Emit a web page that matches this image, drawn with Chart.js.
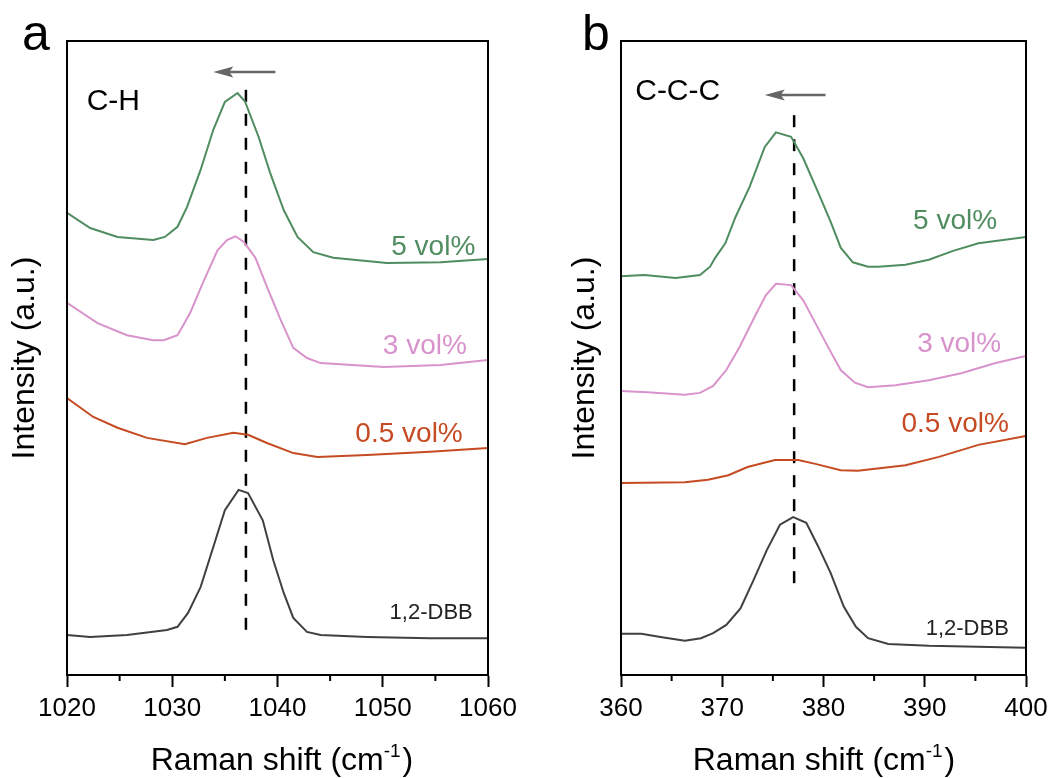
<!DOCTYPE html>
<html><head><meta charset="utf-8">
<script src="https://cdn.jsdelivr.net/npm/chart.js@4.4.0/dist/chart.umd.min.js"></script>
<style>
html,body{margin:0;padding:0;background:#fff;}
#wrap{position:relative;width:1056px;height:778px;overflow:hidden;}
canvas{position:absolute;top:0;}
</style></head><body>
<div id="wrap">
<canvas id="ca" width="528" height="778" style="left:0;width:528px;height:778px"></canvas>
<canvas id="cb" width="528" height="778" style="left:528px;width:528px;height:778px"></canvas>
</div>
<script>
// ---------- data ----------
// Panel a: C-H band
const aTicks = [1020, 1030, 1040, 1050, 1060];
const aMinor = [1025, 1035, 1045, 1055];
const aX_5  = [1020.0,1022.2,1024.8,1028.2,1029.3,1030.5,1031.4,1032.7,1033.9,1035.0,1036.2,1036.9,1038.2,1039.3,1040.6,1041.9,1043.4,1045.3,1050.4,1055.5,1060.0];
const aY_5  = [72.9,70.5,69.1,68.6,69.1,70.7,73.8,79.7,86.0,90.4,91.8,90.5,84.9,79.2,73.3,69.1,66.7,65.8,65.0,65.1,65.6];
const aX_3  = [1020.0,1022.9,1025.7,1028.2,1029.2,1030.5,1031.7,1032.9,1034.3,1035.2,1036.0,1036.8,1037.9,1039.0,1040.3,1041.5,1042.8,1044.1,1050.1,1055.5,1060.0];
const aY_3  = [58.7,55.5,53.6,52.8,52.8,53.6,57.1,61.8,67.0,68.6,69.2,68.3,65.8,61.2,56.0,51.6,50.0,49.2,48.6,48.9,49.7];
const aX_05 = [1020.0,1022.5,1024.8,1027.6,1031.2,1033.3,1035.8,1037.2,1039.0,1041.5,1043.8,1048.5,1054.5,1060.0];
const aY_05 = [43.7,40.7,39.0,37.4,36.4,37.4,38.2,37.9,36.6,35.0,34.4,34.7,35.2,35.8];
const aX_0  = [1020.0,1022.2,1025.7,1029.5,1030.5,1031.5,1032.7,1033.9,1035.0,1036.3,1037.2,1038.6,1039.6,1040.6,1041.5,1042.8,1044.1,1048.5,1054.5,1060.0];
const aY_0  = [6.3,6.0,6.3,7.1,7.6,9.8,13.9,20.2,26.0,29.2,28.7,24.4,18.1,12.9,9.0,6.8,6.3,6.0,5.8,5.8];
const aDashX = [1037.0, 1037.0];
const aDashY = [92.3, 5.5];
const aArrowX = [1039.8, 1033.9];   // tail, tip
const aArrowY = 95.1;

// Panel b: C-C-C band
const bTicks = [360, 370, 380, 390, 400];
const bMinor = [365, 375, 385, 395];
const bX_5  = [360.0,362.3,365.4,367.8,368.8,369.3,370.3,371.3,372.7,374.2,375.3,376.8,378.0,379.5,380.7,381.7,382.9,384.4,385.4,388.1,390.4,392.8,395.3,400.0];
const bY_5  = [62.9,63.1,62.6,63.1,64.4,65.8,68.1,72.2,77.0,83.3,85.6,84.9,81.5,76.0,71.5,67.4,65.1,64.4,64.4,64.7,65.5,66.9,68.1,69.1];
const bX_3  = [360.0,362.6,366.3,367.8,369.1,370.4,371.7,373.2,374.3,375.3,376.8,378.0,379.2,380.5,381.7,383.1,384.4,387.1,390.4,393.6,397.0,400.0];
const bY_3  = [44.8,44.6,44.2,44.5,45.6,48.1,51.7,56.5,59.9,61.7,61.5,59.1,55.5,51.6,48.1,46.1,45.4,45.7,46.5,47.6,49.2,50.3];
const bX_05 = [360.0,366.3,368.6,370.6,372.5,375.2,377.5,379.2,381.7,383.4,388.1,391.4,395.3,400.0];
const bY_05 = [30.3,30.4,30.8,31.5,32.8,33.9,33.9,33.3,32.3,32.2,33.1,34.4,36.3,37.7];
const bX_0  = [360.0,362.0,363.9,366.3,367.9,369.1,370.4,371.8,373.1,374.4,375.7,377.0,378.3,379.5,380.7,382.0,383.2,384.4,386.4,390.4,400.0];
const bY_0  = [6.5,6.5,6.0,5.4,5.8,6.6,7.9,10.5,15.0,19.7,23.7,24.9,24.0,20.2,16.1,10.8,7.6,5.8,4.9,4.6,4.3];
const bDashX = [377.1, 377.1];
const bDashY = [88.3, 13.1];
const bArrowX = [380.2, 374.2];
const bArrowY = 91.5;

// ---------- styles ----------
const FONT = "'Liberation Sans', Arial, Helvetica, sans-serif";
const C_GREEN = '#4f8c60';
const C_PINK  = '#d993cc';
const C_RED   = '#c64a22';
const C_DARK  = '#404040';

Chart.defaults.font.family = FONT;

function pts(xs, ys) { return xs.map((v, i) => ({ x: v, y: ys[i] })); }
function line(xs, ys, color) {
  return { data: pts(xs, ys), borderColor: color, borderWidth: 2, showLine: true,
           pointRadius: 0, tension: 0, fill: false };
}
function dash(xs, ys) {
  return { data: pts(xs, ys), borderColor: '#000', borderWidth: 2.5, showLine: true,
           pointRadius: 0, borderDash: [12, 12], fill: false };
}

function decoPlugin(cfg) {
  return {
    id: 'deco' + cfg.letter,
    afterDraw(chart) {
      const { ctx, chartArea: ca, scales: { x, y } } = chart;
      ctx.save();
      // minor ticks
      ctx.strokeStyle = '#000'; ctx.lineWidth = 2;
      cfg.minor.forEach(v => {
        const px = x.getPixelForValue(v);
        ctx.beginPath(); ctx.moveTo(px, ca.bottom); ctx.lineTo(px, ca.bottom + 6); ctx.stroke();
      });
      // frame
      ctx.strokeRect(ca.left, ca.top, ca.right - ca.left, ca.bottom - ca.top);
      // arrow
      const tx = x.getPixelForValue(cfg.arrowX[0]), hx = x.getPixelForValue(cfg.arrowX[1]);
      const ay = y.getPixelForValue(cfg.arrowY);
      ctx.strokeStyle = '#666'; ctx.fillStyle = '#666'; ctx.lineWidth = 2.5;
      ctx.beginPath(); ctx.moveTo(tx, ay); ctx.lineTo(hx + 14, ay); ctx.stroke();
      ctx.beginPath(); ctx.moveTo(hx, ay); ctx.lineTo(hx + 20, ay - 5.5); ctx.lineTo(hx + 16, ay);
      ctx.lineTo(hx + 20, ay + 5.5); ctx.closePath(); ctx.fill();
      // labels
      ctx.textAlign = 'center'; ctx.textBaseline = 'alphabetic';
      cfg.labels.forEach(l => {
        ctx.font = l.size + 'px ' + FONT; ctx.fillStyle = l.color;
        ctx.fillText(l.text, x.getPixelForValue(l.x), y.getPixelForValue(l.y));
      });
      // x title with superscript
      ctx.fillStyle = '#000'; ctx.textAlign = 'left';
      const main = 'Raman shift (cm', sup = '-1', end = ')';
      ctx.font = '32px ' + FONT; const w1 = ctx.measureText(main).width, w3 = ctx.measureText(end).width;
      ctx.font = '19px ' + FONT; const w2 = ctx.measureText(sup).width;
      let sx = cfg.titleCx - (w1 + w2 + w3 + 2) / 2;
      const by = cfg.titleBase;
      ctx.font = '32px ' + FONT; ctx.fillText(main, sx, by); sx += w1;
      ctx.font = '19px ' + FONT; ctx.fillText(sup, sx, by - 13); sx += w2 + 2;
      ctx.font = '32px ' + FONT; ctx.fillText(end, sx, by);
      // panel letter
      ctx.font = '50px ' + FONT; ctx.fillText(cfg.letter, cfg.letterX, cfg.letterY);
      ctx.restore();
    }
  };
}

function makeChart(id, o) {
  return new Chart(document.getElementById(id), {
    type: 'scatter',
    data: { datasets: o.datasets },
    options: {
      responsive: false, animation: false, devicePixelRatio: 1, events: [],
      layout: { padding: { top: 41, right: o.padRight, left: 0, bottom: 0 } },
      plugins: { legend: { display: false }, tooltip: { enabled: false } },
      scales: {
        x: {
          type: 'linear', min: o.ticks[0], max: o.ticks[o.ticks.length - 1],
          afterBuildTicks: s => { s.ticks = o.ticks.map(v => ({ value: v })); },
          ticks: { font: { size: 26 }, color: '#000', padding: 6, maxRotation: 0, autoSkip: false,
                   callback: v => String(v) },
          grid: { display: true, drawOnChartArea: false, drawTicks: true, tickLength: 12,
                  tickColor: '#000', tickWidth: 2 },
          border: { display: true, color: '#000', width: 2 },
          afterFit: s => { s.height = 103; }
        },
        y: {
          min: 0, max: 100,
          ticks: { display: false },
          grid: { display: false, drawTicks: false },
          border: { display: true, color: '#000', width: 2 },
          title: { display: true, text: 'Intensity (a.u.)', color: '#000',
                   font: { size: 32 }, padding: { top: o.yTitlePad, bottom: 0 } },
          afterFit: s => { s.width = o.yWidth; }
        }
      }
    },
    plugins: [decoPlugin(o.deco)]
  });
}

makeChart('ca', {
  ticks: aTicks, padRight: 40, yWidth: 67, yTitlePad: 6,
  datasets: [line(aX_5, aY_5, C_GREEN), line(aX_3, aY_3, C_PINK), line(aX_05, aY_05, C_RED),
             line(aX_0, aY_0, C_DARK), dash(aDashX, aDashY)],
  deco: {
    letter: 'a', letterX: 22, letterY: 50, minor: aMinor,
    arrowX: aArrowX, arrowY: aArrowY, titleCx: 282, titleBase: 770,
    labels: [
      { text: 'C-H', x: 1024.4, y: 89.1, size: 30, color: '#000' },
      { text: '5 vol%', x: 1054.8, y: 66.2, size: 28, color: C_GREEN },
      { text: '3 vol%', x: 1054.0, y: 50.6, size: 28, color: C_PINK },
      { text: '0.5 vol%', x: 1052.5, y: 36.8, size: 28, color: C_RED },
      { text: '1,2-DBB', x: 1054.6, y: 8.9, size: 22, color: '#222' }
    ]
  }
});

makeChart('cb', {
  ticks: bTicks, padRight: 30, yWidth: 93, yTitlePad: 38,
  datasets: [line(bX_5, bY_5, C_GREEN), line(bX_3, bY_3, C_PINK), line(bX_05, bY_05, C_RED),
             line(bX_0, bY_0, C_DARK), dash(bDashX, bDashY)],
  deco: {
    letter: 'b', letterX: 54, letterY: 50, minor: bMinor,
    arrowX: bArrowX, arrowY: bArrowY, titleCx: 296, titleBase: 770,
    labels: [
      { text: 'C-C-C', x: 365.6, y: 90.7, size: 30, color: '#000' },
      { text: '5 vol%', x: 393.0, y: 70.4, size: 28, color: C_GREEN },
      { text: '3 vol%', x: 393.4, y: 51.0, size: 28, color: C_PINK },
      { text: '0.5 vol%', x: 393.0, y: 38.4, size: 28, color: C_RED },
      { text: '1,2-DBB', x: 394.2, y: 6.3, size: 22, color: '#222' }
    ]
  }
});
</script>
</body></html>
